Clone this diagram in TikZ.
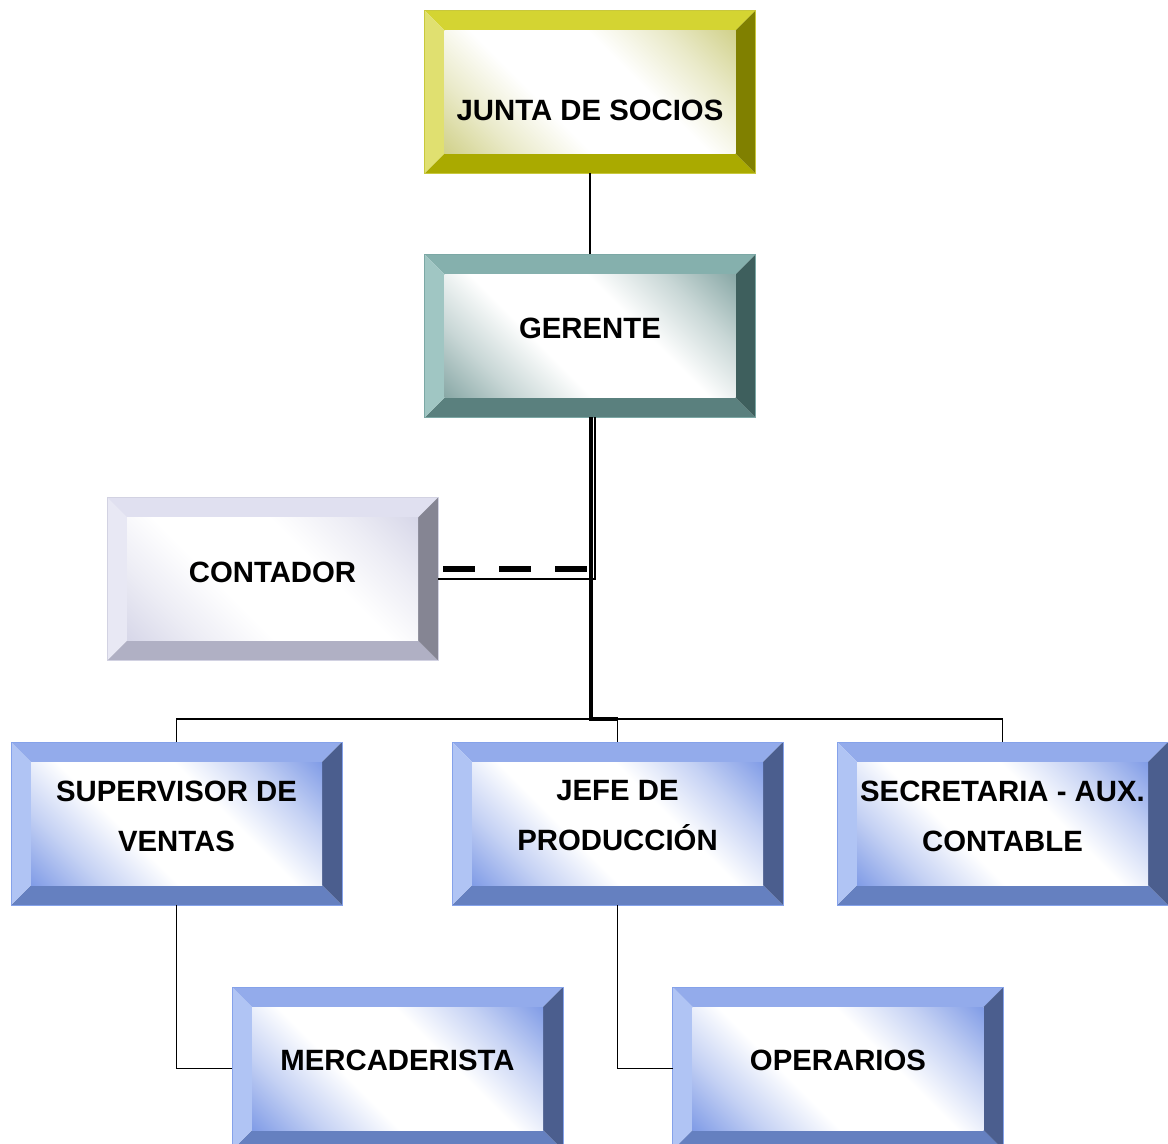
\documentclass[tikz,border=0pt]{standalone}
\usepackage{fontspec}
\setmainfont{Liberation Sans}
% yellow scheme
\definecolor{ytop}{HTML}{D4D432}
\definecolor{ylft}{HTML}{E0E070}
\definecolor{yrgt}{HTML}{808000}
\definecolor{ybot}{HTML}{AAAA00}
\definecolor{yfc}{HTML}{D0D088}
\definecolor{yedge}{HTML}{C8C83C}
% teal scheme
\definecolor{gtop}{HTML}{85B0AD}
\definecolor{glft}{HTML}{A0C6C3}
\definecolor{grgt}{HTML}{3E5F5D}
\definecolor{gbot}{HTML}{5A807E}
\definecolor{gfc}{HTML}{86A6A4}
\definecolor{gedge}{HTML}{7CA8A5}
% lavender scheme
\definecolor{ctop}{HTML}{E0E0F0}
\definecolor{clft}{HTML}{E8E8F4}
\definecolor{crgt}{HTML}{858593}
\definecolor{cbot}{HTML}{B0B0C4}
\definecolor{cfc}{HTML}{D6D6E8}
\definecolor{cedge}{HTML}{D2D2E2}
% blue scheme
\definecolor{btop}{HTML}{93ABEB}
\definecolor{blft}{HTML}{B0C4F4}
\definecolor{brgt}{HTML}{4B5E8E}
\definecolor{bbot}{HTML}{6580C0}
\definecolor{bfc}{HTML}{7E9AE6}
\definecolor{bedge}{HTML}{85A2EA}
\colorlet{yfm}{yfc!45!white}
\colorlet{gfm}{gfc!45!white}
\colorlet{cfm}{cfc!45!white}
\colorlet{bfm}{bfc!45!white}
\pgfdeclarehorizontalshading{yface}{100bp}{color(0bp)=(yfc); color(14bp)=(yfc); color(27bp)=(yfm); color(40bp)=(white); color(60bp)=(white); color(73bp)=(yfm); color(86bp)=(yfc); color(100bp)=(yfc)}
\pgfdeclarehorizontalshading{gface}{100bp}{color(0bp)=(gfc); color(14bp)=(gfc); color(27bp)=(gfm); color(40bp)=(white); color(60bp)=(white); color(73bp)=(gfm); color(86bp)=(gfc); color(100bp)=(gfc)}
\pgfdeclarehorizontalshading{cface}{100bp}{color(0bp)=(cfc); color(14bp)=(cfc); color(27bp)=(cfm); color(40bp)=(white); color(60bp)=(white); color(73bp)=(cfm); color(86bp)=(cfc); color(100bp)=(cfc)}
\pgfdeclarehorizontalshading{bface}{100bp}{color(0bp)=(bfc); color(14bp)=(bfc); color(27bp)=(bfm); color(40bp)=(white); color(60bp)=(white); color(73bp)=(bfm); color(86bp)=(bfc); color(100bp)=(bfc)}
\tikzset{
  boxshape/.style={rectangle, minimum width=248.25pt, minimum height=122.25pt, inner sep=0pt, outer sep=0pt},
  lbl/.style={font=\bfseries\fontsize{22}{37.5}\selectfont, align=center, inner sep=0pt},
  conn/.style={line width=1.1pt, black},
  connthick/.style={line width=2.3pt, black},
  dashconn/.style={line width=4.8pt, black, dash pattern=on 24pt off 18pt}
}
\newcommand\orgbox[6]{%
  \node[boxshape] (#1) at (#2,#3) {};
  \fill[#4top] (#1.north west) -- (#1.north east) -- ++(-20,20) -- ++(-291,0) -- cycle;
  \fill[#4bot] (#1.south west) -- (#1.south east) -- ++(-20,-20) -- ++(-291,0) -- cycle;
  \fill[#4lft] (#1.north west) -- ++(20,20) -- ++(0,123) -- (#1.south west) -- cycle;
  \fill[#4rgt] (#1.north east) -- ++(-20,20) -- ++(0,123) -- (#1.south east) -- cycle;
  \shade[shading=#4face, shading angle=45] ([shift={(20,20)}]#1.north west) rectangle ([shift={(-20,-20)}]#1.south east);
  \draw[#4edge, line width=0.7pt] (#1.north west) rectangle (#1.south east);
  \node[lbl] (#1-t) at ([yshift=#6]#1.center) {#5};
}
\begin{document}
\begin{tikzpicture}[x=0.75pt,y=-0.75pt]
\useasboundingbox (0,0) rectangle (1168,1144);
\fill[white] (0,0) rectangle (1168,1144);
\orgbox{junta}{590}{92}{y}{JUNTA DE SOCIOS}{-13.5pt}
\orgbox{gerente}{590}{336}{g}{GERENTE}{6pt}
\orgbox{contador}{272.5}{579}{c}{CONTADOR}{5.25pt}
\orgbox{superv}{176.5}{823.5}{b}{SUPERVISOR DE\\VENTAS}{5.6pt}
\orgbox{jefe}{617.5}{823.5}{b}{JEFE DE\\PRODUCCIÓN}{5.6pt}
\orgbox{secret}{1002.5}{823.5}{b}{SECRETARIA - AUX.\\CONTABLE}{5.6pt}
\orgbox{merca}{397.5}{1068.5}{b}{MERCADERISTA}{6.4pt}
\orgbox{oper}{838}{1068.5}{b}{OPERARIOS}{6.4pt}
% connectors
\coordinate (bus) at (591,719);
\coordinate (dA) at (443,569);
\coordinate (dB) at (588,569);
\draw[conn] (junta.south) -- (gerente.north);
\draw[conn] ([xshift=3.75pt]gerente.south) |- (contador.east);
\draw[dashconn] (dA) -- (dB);
\draw[conn] (bus) -| (superv.north);
\draw[conn] (bus) -| (secret.north);
\draw[conn] (bus) -| (jefe.north);
\draw[connthick] ([xshift=0.75pt]gerente.south) -- (bus) -- (bus -| jefe.north);
\draw[conn] (superv.south) |- (merca.west);
\draw[conn] (jefe.south) |- (oper.west);
\end{tikzpicture}
\end{document}
